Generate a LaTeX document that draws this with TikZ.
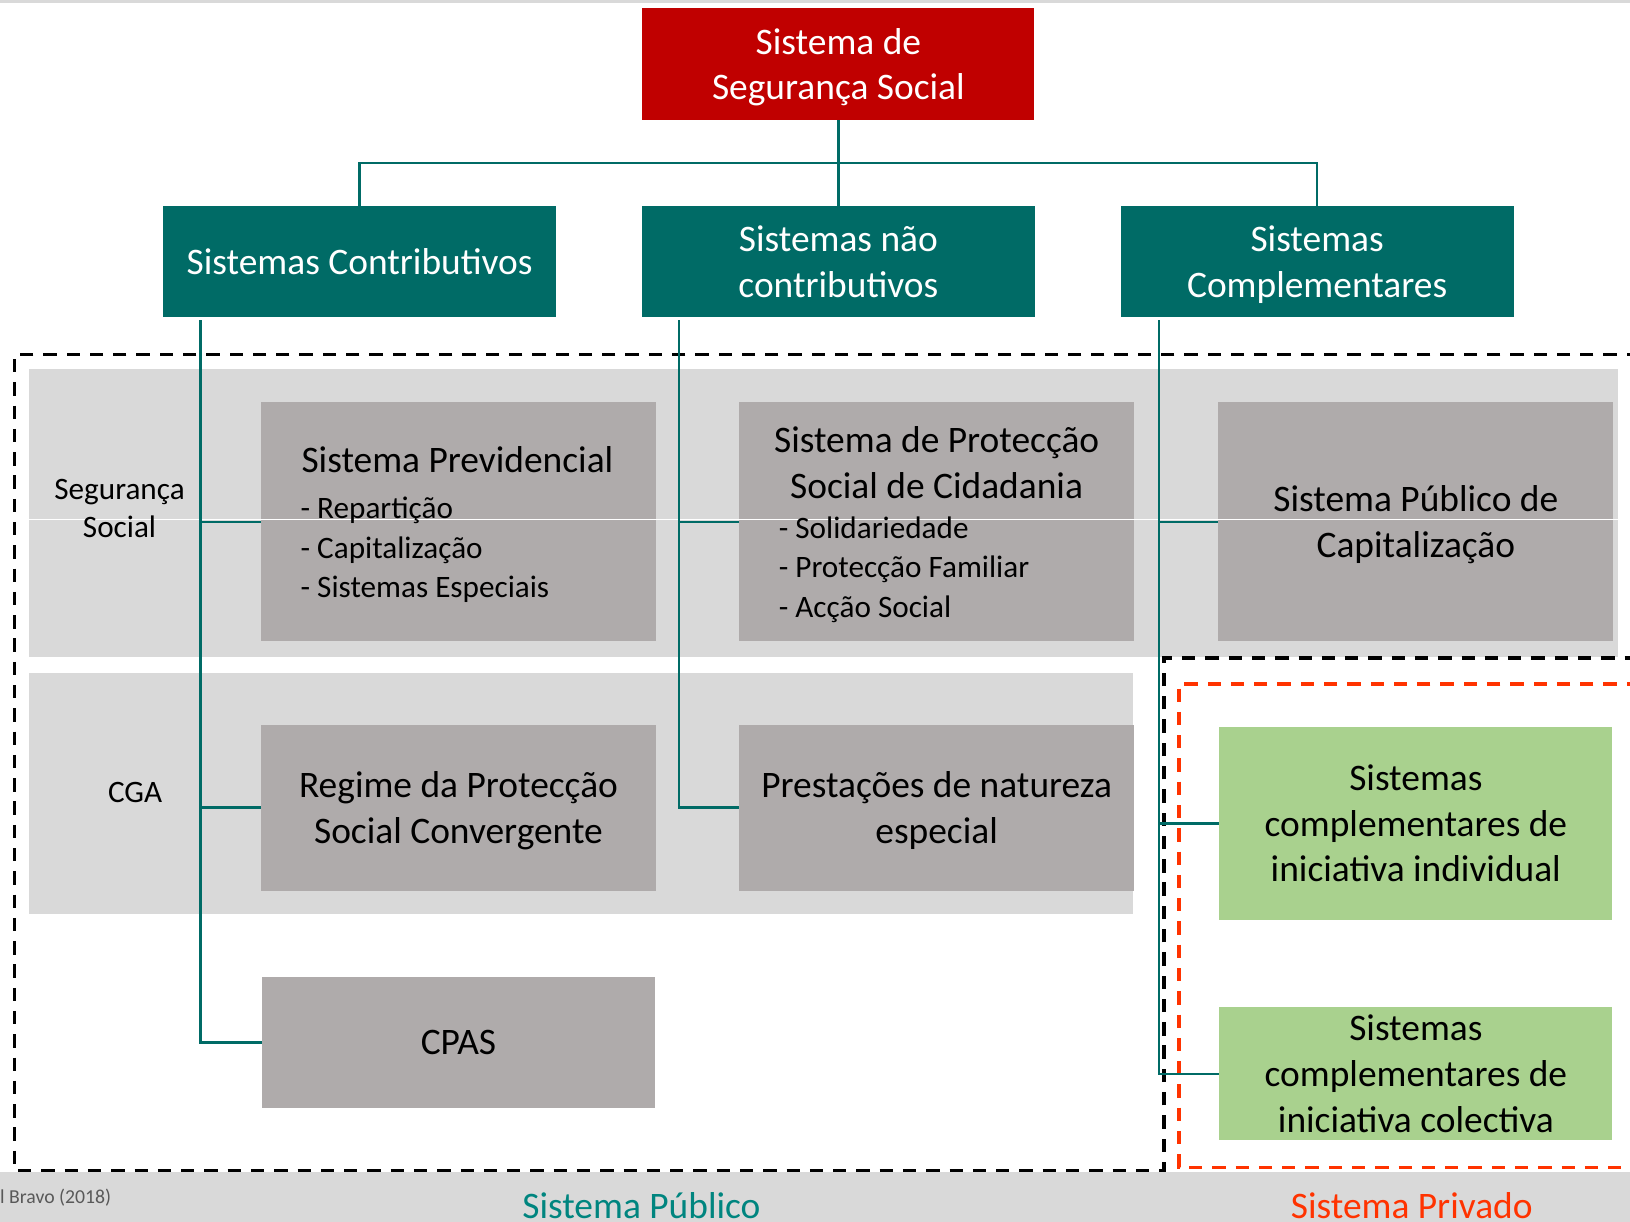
\documentclass[tikz,border=0pt]{standalone}
\usepackage{fontspec}
\setmainfont{Carlito}
\usetikzlibrary{calc}
\definecolor{cred}{HTML}{C00000}
\definecolor{cteal}{HTML}{006B66}
\definecolor{cband}{HTML}{D9D9D9}
\definecolor{cgbox}{HTML}{AFABAB}
\definecolor{cgreen}{HTML}{A9D18E}
\definecolor{cpriv}{HTML}{FF3300}
\definecolor{cpub}{HTML}{00857F}
\definecolor{csrc}{HTML}{595959}
\newcommand\bigtxt{\fontsize{36}{44}\selectfont}
\newcommand\midtxt{\fontsize{30}{38}\selectfont}
\newcommand\lbltxt{\fontsize{30}{37}\selectfont}
\newcommand\srctxt{\fontsize{19}{23}\selectfont}
\tikzset{
  boxbase/.style={inner sep=0pt, align=center, font=\bigtxt, text depth=0pt},
  redbox/.style={boxbase, fill=cred, text=white, minimum width=377pt, minimum height=107pt},
  tealbox/.style={boxbase, fill=cteal, text=white, minimum width=378pt, minimum height=107pt},
  graybox/.style={boxbase, fill=cgbox, text=black, minimum width=380pt, minimum height=230pt},
  greenbox/.style={boxbase, fill=cgreen, text=black, minimum width=378pt},
  band/.style={fill=cband, inner sep=0pt},
  conn/.style={draw=cteal, line width=2.6pt},
  publine/.style={draw=black, line width=3.6pt, dash pattern=on 12.8pt off 9.6pt},
  privline/.style={draw=cpriv, line width=3.2pt, dash pattern=on 12.8pt off 9.6pt},
  itemtxt/.style={font=\midtxt, inner sep=0pt, anchor=base west},
}
\begin{document}
\begin{tikzpicture}[x=1pt,y=-1pt]
\useasboundingbox (0,0) rectangle (1568,1174.6);
\fill[cband] (0,0) rectangle (1568,3);
% background bands
\node[band, minimum width=1528pt, minimum height=277pt] (band1) at (792,493.5) {};
\node[band, minimum width=1062pt, minimum height=232pt] (band2) at (559,763) {};
\fill[cband] (0,1127) rectangle (1600,1200);
% system outlines
\draw[publine] (1600,341) -- (14,341) -- (14,1126) -- (1119.5,1126) -- (1119.5,633) -- (1600,633);
\draw[privline] (1600,658) -- (1134,658) -- (1134,1123) -- (1600,1123);
% top level
\node[redbox] (top) at (806.5,61.5) {Sistema de\\Segurança Social};
\node[tealbox] (c1) at (346,251.5) {Sistemas Contributivos};
\node[tealbox] (c2) at (806.5,251.5) {Sistemas não\\contributivos};
\node[tealbox] (c3) at (1267,251.5) {Sistemas\\Complementares};
% gray boxes
\node[graybox] (sp) at (441,502) {};
\node[graybox] (spsc) at (901,502) {};
\node[graybox] (spc) at (1362,502) {Sistema Público de\\Capitalização};
\node[graybox, minimum height=160pt] (reg) at (441,777) {Regime da Protecção\\Social Convergente};
\node[graybox, minimum height=160pt] (pre) at (901,777) {Prestações de natureza\\especial};
\node[graybox, minimum width=378pt, minimum height=126pt] (cpas) at (441,1003) {CPAS};
% green boxes
\node[greenbox, minimum height=186pt] (g1) at (1362,792) {Sistemas\\complementares de\\iniciativa individual};
\node[greenbox, minimum height=128pt] (g2) at (1362,1033) {Sistemas\\complementares de\\iniciativa colectiva};
% thin white line across the first band
\draw[white, line width=1pt] (band1.west |- 0,500) -- (band1.east |- 0,500);
% connectors
\draw[conn] (top.south) -- (c2.north);
\draw[conn] (c1.north) -- ++(0,-41) -| (c3.north);
\draw[conn] ($(c1.south west)+(36,3)$) |- (sp.west);
\draw[conn] ($(c1.south west)+(36,3)$) |- (reg.west);
\draw[conn] ($(c1.south west)+(36,3)$) |- (cpas.west);
\draw[conn] ($(c2.south west)+(36,3)$) |- (spsc.west);
\draw[conn] ($(c2.south west)+(36,3)$) |- (pre.west);
\draw[conn] ($(c3.south west)+(37,3)$) |- (spc.west);
\draw[conn] ($(c3.south west)+(37,3)$) |- (g1.west);
\draw[conn] ($(c3.south west)+(37,3)$) |- (g2.west);
% texts in the first two gray boxes
\node[font=\bigtxt, inner sep=0pt, anchor=base] (spT) at (440,455) {Sistema Previdencial};
\node[itemtxt] (sp1) at (289,499) {- Repartição};
\node[itemtxt] (sp2) at (289,537) {- Capitalização};
\node[itemtxt] (sp3) at (289,575) {- Sistemas Especiais};
\node[font=\bigtxt, inner sep=0pt, align=center] (spscT) at (901,445) {Sistema de Protecção\\Social de Cidadania};
\node[itemtxt] (ss1) at (749,518) {- Solidariedade};
\node[itemtxt] (ss2) at (749,556) {- Protecção Familiar};
\node[itemtxt] (ss3) at (749,594) {- Acção Social};
% row labels
\node[font=\lbltxt, align=center, inner sep=0pt] (seg) at (115,489) {Segurança\\Social};
\node[font=\lbltxt, inner sep=0pt] (cga) at (130,762) {CGA};
% bottom captions
\node[font=\bigtxt, text=cpub, inner sep=0pt, anchor=base] (pub) at (617,1172) {Sistema Público};
\node[font=\bigtxt, text=cpriv, inner sep=0pt, anchor=base] (priv) at (1358,1172) {Sistema Privado};
\node[font=\srctxt, text=csrc, inner sep=0pt, anchor=base west] (src) at (0,1158) {l Bravo (2018)};
\end{tikzpicture}
\end{document}
